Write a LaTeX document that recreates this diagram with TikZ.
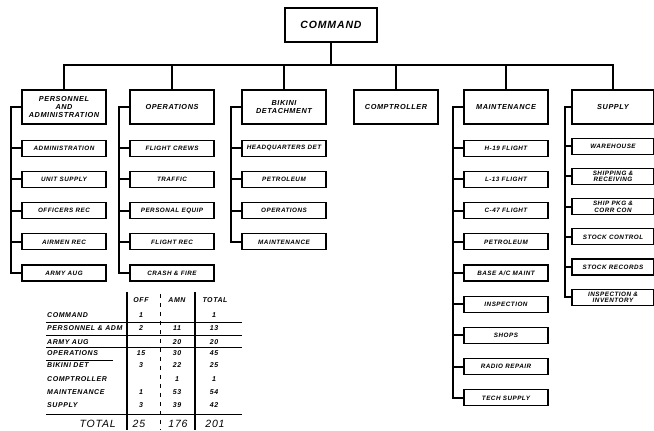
\documentclass[tikz,border=0pt]{standalone}
\usepackage{fontspec}
\setmainfont{Liberation Sans}[LetterSpace=8]
\usetikzlibrary{positioning}

\begin{document}
\begin{tikzpicture}[x=1pt,y=1pt,node distance=14pt,
  cmdbox/.style={draw,line width=1.4pt,minimum width=92pt,minimum height=34pt,font=\fontsize{10.5}{11}\selectfont\bfseries\itshape},
  unit/.style={draw,line width=1.4pt,minimum width=84pt,minimum height=34pt,inner sep=2pt,align=center,font=\fontsize{7.3}{7.6}\selectfont\bfseries\itshape},
  section/.style={draw,line width=1.2pt,minimum width=84pt,minimum height=16pt,inner sep=1pt,align=center,font=\fontsize{6.3}{6.5}\selectfont\bfseries\itshape},
  link/.style={line width=2pt},
  cell/.style={inner sep=1pt,font=\fontsize{7}{7}\selectfont\bfseries\itshape},
  rule/.style={line width=0.9pt}]
\useasboundingbox (0,0) rectangle (654,431);

% command and the six sections
\node[cmdbox] (command) at (331,406) {COMMAND};
\node[unit] (pers) at (64,324) {PERSONNEL\\AND\\ADMINISTRATION};
\node[unit] (ops) at (172,324) {OPERATIONS};
\node[unit] (bikini) at (284,324) {BIKINI\\DETACHMENT};
\node[unit] (compt) at (396,324) {COMPTROLLER};
\node[unit] (maint) at (506,324) {MAINTENANCE};
\node[unit,minimum width=82pt] (supply) at (613,324) {SUPPLY};

\coordinate (bus) at (331,366);
\draw[link] (command) -- (bus);
\draw[link] (pers.north) |- (bus) -| (supply.north);
\draw[link] (ops.north) -- (ops.north |- bus);
\draw[link] (bikini.north) -- (bikini.north |- bus);
\draw[link] (compt.north) -- (compt.north |- bus);
\draw[link] (maint.north) -- (maint.north |- bus);

% personnel and administration
\node[section,below=15pt of pers] (admin) {ADMINISTRATION};
\node[section,below=of admin] (unitsup) {UNIT SUPPLY};
\node[section,below=of unitsup] (offrec) {OFFICERS REC};
\node[section,below=of offrec] (airrec) {AIRMEN REC};
\node[section,below=of airrec] (armyaug) {ARMY AUG};
\draw[link] (pers.west) -- ++(-10,0) |- (armyaug.west);
\foreach \n in {admin,unitsup,offrec,airrec}
  \draw[link] (\n.west) -- ++(-10,0);

% operations
\node[section,below=15pt of ops] (crews) {FLIGHT CREWS};
\node[section,below=of crews] (traffic) {TRAFFIC};
\node[section,below=of traffic] (equip) {PERSONAL EQUIP};
\node[section,below=of equip] (fltrec) {FLIGHT REC};
\node[section,below=of fltrec] (crash) {CRASH \& FIRE};
\draw[link] (ops.west) -- ++(-10,0) |- (crash.west);
\foreach \n in {crews,traffic,equip,fltrec}
  \draw[link] (\n.west) -- ++(-10,0);

% bikini detachment
\node[section,below=15pt of bikini] (hqdet) {HEADQUARTERS DET};
\node[section,below=of hqdet] (bpetrol) {PETROLEUM};
\node[section,below=of bpetrol] (bops) {OPERATIONS};
\node[section,below=of bops] (bmaint) {MAINTENANCE};
\draw[link] (bikini.west) -- ++(-10,0) |- (bmaint.west);
\foreach \n in {hqdet,bpetrol,bops}
  \draw[link] (\n.west) -- ++(-10,0);

% maintenance
\node[section,below=15pt of maint] (hflt) {H-19 FLIGHT};
\node[section,below=of hflt] (lflt) {L-13 FLIGHT};
\node[section,below=of lflt] (cflt) {C-47 FLIGHT};
\node[section,below=of cflt] (mpetrol) {PETROLEUM};
\node[section,below=of mpetrol] (basemaint) {BASE A/C MAINT};
\node[section,below=of basemaint] (insp) {INSPECTION};
\node[section,below=of insp] (shops) {SHOPS};
\node[section,below=of shops] (radio) {RADIO REPAIR};
\node[section,below=of radio] (techsup) {TECH SUPPLY};
\draw[link] (maint.west) -- ++(-10,0) |- (techsup.west);
\foreach \n in {hflt,lflt,cflt,mpetrol,basemaint,insp,shops,radio}
  \draw[link] (\n.west) -- ++(-10,0);

% supply
\node[section,minimum width=82pt,below=13pt of supply] (warehouse) {WAREHOUSE};
\node[section,minimum width=82pt,below=13pt of warehouse] (shiprec) {SHIPPING \&\\RECEIVING};
\node[section,minimum width=82pt,below=13pt of shiprec] (corrcon) {SHIP PKG \&\\CORR CON};
\node[section,minimum width=82pt,below=13pt of corrcon] (stockctl) {STOCK CONTROL};
\node[section,minimum width=82pt,below=13pt of stockctl] (stockrec) {STOCK RECORDS};
\node[section,minimum width=82pt,below=13pt of stockrec] (inv) {INSPECTION \&\\INVENTORY};
\draw[link] (supply.west) -- ++(-6,0) |- (inv.west);
\foreach \n in {warehouse,shiprec,corrcon,stockctl,stockrec}
  \draw[link] (\n.west) -- ++(-6,0);

% manning table
\node[cell] (hoff) at (141,131) {OFF};
\node[cell] (hamn) at (177,131) {AMN};
\node[cell] (htot) at (215,131) {TOTAL};
\foreach \lbl/\off/\amn/\tot/\y [count=\i] in {
    COMMAND/1//1/116, PERSONNEL \& ADM/2/11/13/103, ARMY AUG//20/20/89,
    OPERATIONS/15/30/45/78, BIKINI DET/3/22/25/66, COMPTROLLER//1/1/52,
    MAINTENANCE/1/53/54/39, SUPPLY/3/39/42/26} {
  \node[cell,anchor=west] (lbl\i) at (46,\y) {\lbl};
  \node[cell] (off\i) at (141,\y) {\off};
  \node[cell] (amn\i) at (177,\y) {\amn};
  \node[cell] (tot\i) at (214,\y) {\tot};
}
\node[anchor=east,inner sep=1pt,font=\fontsize{10.5}{10.5}\selectfont\itshape] (sumlbl) at (117,7) {TOTAL};
\node[inner sep=1pt,font=\fontsize{10.5}{10.5}\selectfont\itshape] (sumoff) at (139,7) {25};
\node[inner sep=1pt,font=\fontsize{10.5}{10.5}\selectfont\itshape] (sumamn) at (178,7) {176};
\node[inner sep=1pt,font=\fontsize{10.5}{10.5}\selectfont\itshape] (sumtot) at (215,7) {201};

\draw[line width=1.2pt] (127,139) -- (127,1);
\draw[line width=1.2pt] (195,139) -- (195,1);
\draw[line width=0.5pt,dash pattern=on 4pt off 5pt] (160,137) -- (160,1);
\draw[rule] (46,109) -- (242,109);
\draw[rule] (46,96) -- (242,96);
\draw[rule] (46,84) -- (242,84);
\draw[rule] (46,71) -- (113,71);
\draw[rule] (46,17) -- (242,17);
\end{tikzpicture}
\end{document}
